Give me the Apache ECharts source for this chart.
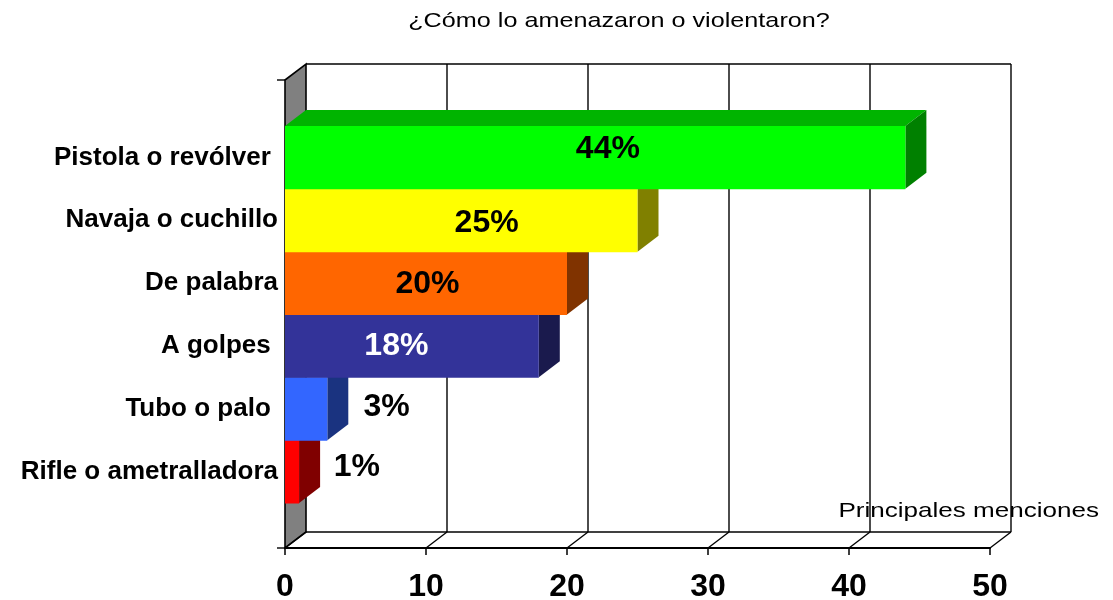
<!DOCTYPE html>
<html>
<head>
<meta charset="utf-8">
<script src="https://cdn.jsdelivr.net/npm/echarts@6/dist/echarts.min.js"></script>
<style>
  html, body { margin: 0; padding: 0; background: #fff; }
  #chart { width: 1113px; height: 600px; }
</style>
</head>
<body>
<div id="chart"></div>
<script>
// categories listed bottom -> top, so the upper bars paint over the lower ones
const categories = ['Rifle o ametralladora', 'Tubo o palo ', 'A golpes ', 'De palabra', 'Navaja o cuchillo', 'Pistola o revólver '];
const values = [1, 3, 18, 20, 25, 44];
const valueLabels = ['1%', '3%', '18%', '20%', '25%', '44%'];
const xTicks = [0, 10, 20, 30, 40, 50];
const titleText = '¿Cómo lo amenazaron o violentaron?';
const axisTitle = 'Principales menciones';

// styling
const FONT = '"Liberation Sans", Arial, sans-serif';
const DX = 21, DY = 16; // depth of the 3d look
const barColors = [
  { front: '#ff0000', side: '#800000', top: '#c00000' },
  { front: '#3366ff', side: '#1a3380', top: '#264dbf' },
  { front: '#333399', side: '#1a1a4d', top: '#262673' },
  { front: '#ff6600', side: '#803300', top: '#bf4c00' },
  { front: '#ffff00', side: '#808000', top: '#c0c000' },
  { front: '#00ff00', side: '#008000', top: '#00b400' }
];
// where the % labels sit (x in axis units, y shift in px), as placed in the original
const labelAt = [5.1, 7.2, 7.9, 10.1, 14.3, 22.9];
const labelShift = [-4, -2, 0, 1, 3, -8];
const labelColor = ['#000', '#000', '#fff', '#000', '#000', '#000'];

const chart = echarts.init(document.getElementById('chart'));

const option = {
  animation: false,
  backgroundColor: '#fff',
  grid: [
    { left: 285, right: 123, top: 80, bottom: 52, outerBoundsMode: 'none' },   // frame (walls + floor)
    { left: 285, right: 123, top: 126, bottom: 97, outerBoundsMode: 'none' }   // bars
  ],
  xAxis: [
    {
      gridIndex: 0, type: 'value', min: 0, max: 50, interval: 10,
      axisLine: { show: true, lineStyle: { color: '#000', width: 2 } },
      axisTick: { show: true, length: 7, lineStyle: { color: '#000', width: 1.5 } },
      axisLabel: { margin: 23, fontSize: 32, fontWeight: 'bold', color: '#000', fontFamily: FONT },
      splitLine: { show: false }
    },
    { gridIndex: 1, type: 'value', min: 0, max: 50, show: false }
  ],
  yAxis: [
    { gridIndex: 0, type: 'value', min: 0, max: 1, show: false },
    {
      gridIndex: 1, type: 'category', data: categories,
      axisLine: { show: false }, axisTick: { show: false },
      axisLabel: { margin: 7, fontSize: 26, fontWeight: 'bold', color: '#000', fontFamily: FONT, padding: [4, 0, 0, 0] }
    }
  ],
  graphic: [
    {
      type: 'text', x: 619, y: 21, scaleX: 1.2,
      style: { text: titleText, font: '21px ' + FONT, fill: '#000', align: 'center', verticalAlign: 'middle' }
    },
    {
      type: 'text', x: 1099, y: 511, scaleX: 1.24,
      style: { text: axisTitle, font: '21px ' + FONT, fill: '#000', align: 'right', verticalAlign: 'middle' }
    }
  ],
  series: [
    {
      // left wall, back wall grid and floor
      type: 'custom',
      xAxisIndex: 0, yAxisIndex: 0,
      data: [[0, 0]],
      silent: true,
      renderItem: function (params, api) {
        const p = (x, y) => api.coord([x, y]);
        const b = (pt) => [pt[0] + DX, pt[1] - DY];
        const xMax = xTicks[xTicks.length - 1];
        const line = { stroke: '#000', lineWidth: 1.4 };
        const kids = [];
        kids.push({
          type: 'polygon',
          shape: { points: [p(0, 0), p(0, 1), b(p(0, 1)), b(p(0, 0))] },
          style: { fill: '#808080', stroke: '#000', lineWidth: 1.6 }
        });
        xTicks.forEach(function (t) {
          if (t > 0) {
            kids.push({ type: 'line', shape: { x1: b(p(t, 0))[0], y1: b(p(t, 0))[1], x2: b(p(t, 1))[0], y2: b(p(t, 1))[1] }, style: line });
          }
          kids.push({ type: 'line', shape: { x1: p(t, 0)[0], y1: p(t, 0)[1], x2: b(p(t, 0))[0], y2: b(p(t, 0))[1] }, style: line });
        });
        kids.push({ type: 'line', shape: { x1: b(p(0, 1))[0], y1: b(p(0, 1))[1], x2: b(p(xMax, 1))[0], y2: b(p(xMax, 1))[1] }, style: line });
        kids.push({ type: 'line', shape: { x1: b(p(0, 0))[0], y1: b(p(0, 0))[1], x2: b(p(xMax, 0))[0], y2: b(p(xMax, 0))[1] }, style: line });
        // little category-axis ticks at the ends
        kids.push({ type: 'line', shape: { x1: p(0, 1)[0] - 8, y1: p(0, 1)[1], x2: p(0, 1)[0], y2: p(0, 1)[1] }, style: line });
        kids.push({ type: 'line', shape: { x1: p(0, 0)[0] - 8, y1: p(0, 0)[1], x2: p(0, 0)[0], y2: p(0, 0)[1] }, style: line });
        return { type: 'group', children: kids };
      }
    },
    {
      type: 'custom',
      xAxisIndex: 1, yAxisIndex: 1,
      z: 3,
      data: values.map((v, i) => [v, i]),
      encode: { x: 0, y: 1 },
      renderItem: function (params, api) {
        const i = params.dataIndex;
        const cat = api.value(1);
        const p0 = api.coord([0, cat]);
        const p1 = api.coord([api.value(0), cat]);
        const h = api.size([0, 1])[1];
        const yT = p0[1] - h / 2, yB = p0[1] + h / 2;
        const x0 = p0[0], x1 = p1[0];
        const c = barColors[i];
        const lp = api.coord([labelAt[i], cat]);
        return {
          type: 'group',
          children: [
            { type: 'polygon', z2: i * 10, shape: { points: [[x0, yT], [x1, yT], [x1 + DX, yT - DY], [x0 + DX, yT - DY]] }, style: { fill: c.top } },
            { type: 'polygon', z2: i * 10 + 1, shape: { points: [[x1, yT], [x1 + DX, yT - DY], [x1 + DX, yB - DY], [x1, yB]] }, style: { fill: c.side } },
            { type: 'rect', z2: i * 10 + 2, shape: { x: x0, y: yT, width: x1 - x0, height: h + 0.5 }, style: { fill: c.front } },
            {
              type: 'text', z2: 200,
              style: {
                text: valueLabels[i], x: lp[0], y: lp[1] + labelShift[i],
                fill: labelColor[i], font: 'bold 32px ' + FONT,
                align: 'center', verticalAlign: 'middle'
              }
            }
          ]
        };
      }
    }
  ]
};

chart.setOption(option);
</script>
</body>
</html>
